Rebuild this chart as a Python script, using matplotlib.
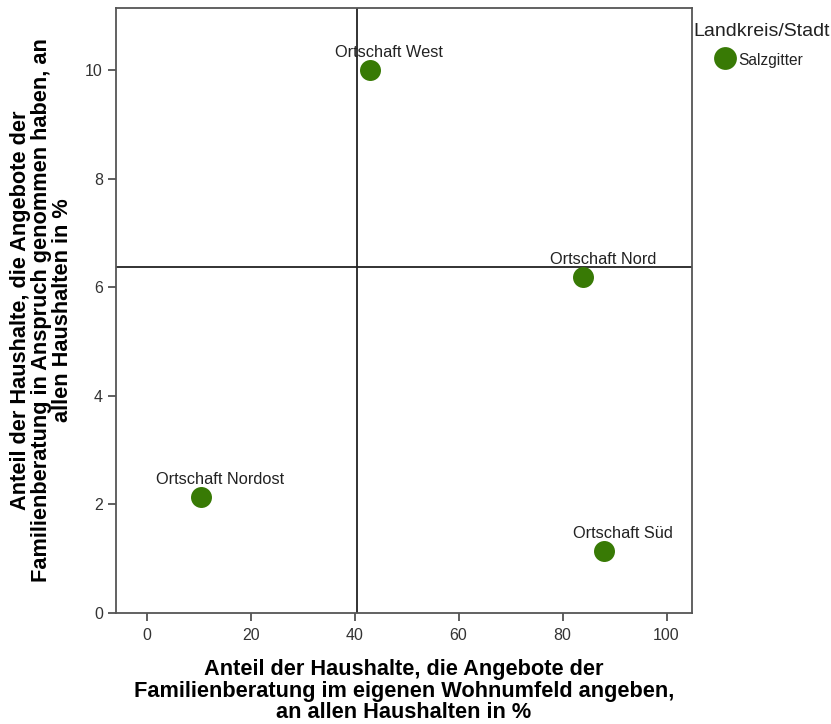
import matplotlib
matplotlib.use("Agg")
import matplotlib.pyplot as plt

# Data: share of households (%)
names = ["Ortschaft West", "Ortschaft Nord", "Ortschaft Nordost", "Ortschaft Süd"]
x_local = [42.9, 84.0, 10.4, 87.9]      # offers in own neighbourhood
y_used = [10.0, 6.19, 2.13, 1.14]       # offers used

city_name = "Salzgitter"
city_group = "Landkreis/Stadt"
city_x = 111.2
city_y = 10.22

ref_x = 40.4
ref_y = 6.37

xticks = [0, 20, 40, 60, 80, 100]
yticks = [0, 2, 4, 6, 8, 10]

plt.rcParams["font.family"] = ["Liberation Sans", "DejaVu Sans"]

fig = plt.figure(figsize=(8.31, 7.24), dpi=100)
ax = fig.add_axes([0.1396, 0.1533, 0.8327 - 0.1396, 0.989 - 0.1533])

green = "#387a05"
ax.scatter(x_local, y_used, s=228, color=green, zorder=3, linewidths=0)
ax.scatter([city_x], [city_y], s=270, color=green, zorder=3, linewidths=0, clip_on=False)

for n, xv, yv in zip(names, x_local, y_used):
    ax.annotate(n, (xv, yv), xytext=(14, 9.5), textcoords="offset points",
                ha="center", va="baseline", fontsize=11.8, color="#222222")

ax.annotate(city_name, (city_x, city_y), xytext=(10, -1.5), textcoords="offset points",
            ha="left", va="center", fontsize=11.2, color="#222222", annotation_clip=False)
ax.annotate(city_group, (city_x, city_y), xytext=(26.6, 15.8), textcoords="offset points",
            ha="center", va="baseline", fontsize=14, color="#222222", annotation_clip=False)

ax.axvline(ref_x, color="#222222", lw=1.3, zorder=2)
ax.axhline(ref_y, color="#222222", lw=1.3, zorder=2)

ax.set_xlim(-5.9, 104.9)
ax.set_ylim(0, 11.15)
ax.set_xticks(xticks)
ax.set_yticks(yticks)
for s in ax.spines.values():
    s.set_color("#555555")
    s.set_linewidth(1.3)
ax.tick_params(axis="both", colors="#444444", labelcolor="#333333", labelsize=11.5,
               length=6, width=1.2)
ax.tick_params(axis="x", pad=5)

ax.set_xlabel("Anteil der Haushalte, die Angebote der\nFamilienberatung im eigenen Wohnumfeld angeben,\nan allen Haushalten in %",
              fontsize=15.7, fontweight="bold", linespacing=1.02, labelpad=11.5)
ax.set_ylabel("Anteil der Haushalte, die Angebote der\nFamilienberatung in Anspruch genommen haben, an\nallen Haushalten in %",
              fontsize=15.7, fontweight="bold", linespacing=1.02, labelpad=8.5)

fig.savefig("out.png", dpi=100)
